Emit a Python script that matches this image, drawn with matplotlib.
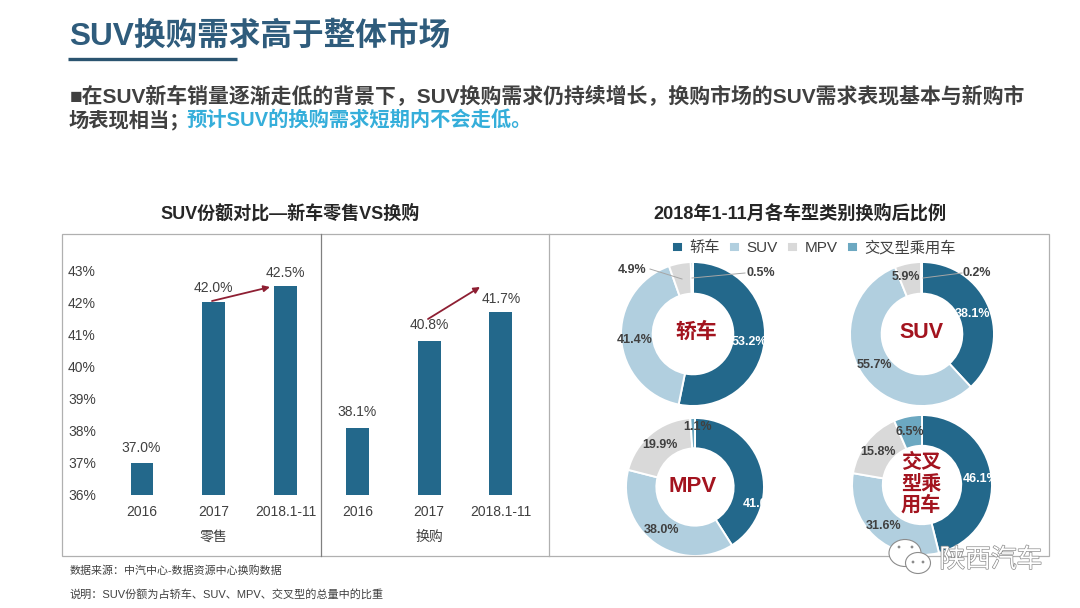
import matplotlib
matplotlib.use("Agg")
import matplotlib.pyplot as plt
from matplotlib.patches import Rectangle, Ellipse
import matplotlib.patheffects as pe

LATIN = ['Liberation Sans', 'Noto Sans CJK SC', 'DejaVu Sans']
plt.rcParams['font.family'] = LATIN

# ---------- data ----------
bar_categories = ['2016', '2017', '2018.1-11', '2016', '2017', '2018.1-11']
bar_values = [37.0, 42.0, 42.5, 38.1, 40.8, 41.7]
y_ticks = [36, 37, 38, 39, 40, 41, 42, 43]
y_tick_labels = ['36%', '37%', '38%', '39%', '40%', '41%', '42%', '43%']
group_names = ['零售', '换购']
donut_labels = ['轿车', 'SUV', 'MPV', '交叉型乘用车']
sedan_values = [53.2, 41.4, 4.9, 0.5]
suv_values = [38.1, 55.7, 5.9, 0.2]
mpv_values = [41.0, 38.0, 19.9, 1.1]
cross_values = [46.1, 31.6, 15.8, 6.5]

DARK = '#23688B'
LIGHT = '#B1CFDF'
GREY = '#D9D9D9'
TEAL = '#6CA8C1'
colors = [DARK, LIGHT, GREY, TEAL]
TXT = '#404040'
RED = '#A3141F'
W, H = 1080, 608

fig = plt.figure(figsize=(W / 100, H / 100), dpi=100, facecolor='white')


def px_axes(x0, y0, x1, y1, **kw):
    return fig.add_axes([x0 / W, 1 - y1 / H, (x1 - x0) / W, (y1 - y0) / H], **kw)


# ---------- bar chart ----------
ax = px_axes(100, 234, 548, 495, facecolor='none')
ax.bar(range(6), bar_values, width=0.32, color=DARK, bottom=0)
ax.set_xlim(-0.585, 5.655)
ax.set_ylim(36, 44.12)
ax.set_yticks(y_ticks, y_tick_labels, fontsize=10, color=TXT)
ax.set_xticks(range(6), bar_categories, fontsize=10, color=TXT)
ax.tick_params(length=0)
ax.tick_params(axis='y', pad=3)
ax.tick_params(axis='x', pad=7.5)
for s in ax.spines.values():
    s.set_visible(False)
bar_label_pos = [(141, 448), (213, 288), (285, 273), (357, 412), (429, 325), (501, 299)]

# ---------- donuts ----------
donuts = [
    (sedan_values, 693, 334, 72),
    (suv_values, 922, 334, 72),
    (mpv_values, 695, 487, 69),
    (cross_values, 922, 485, 70),
]
legend_wedges = None
for vals, cx, cy, r in donuts:
    a = px_axes(cx - r, cy - r, cx + r, cy + r)
    w, _ = a.pie(vals, colors=colors, startangle=90, counterclock=False, radius=1,
                 wedgeprops=dict(width=0.44, edgecolor='white', linewidth=1.4))
    a.set_xlim(-1, 1)
    a.set_ylim(-1, 1)
    if legend_wedges is None:
        legend_wedges = w

# ---------- overlay in pixel coordinates ----------
ov = px_axes(0, 0, W, H, facecolor='none', zorder=5)
ov.set_xlim(0, W)
ov.set_ylim(H, 0)
ov.axis('off')


def T(x, y, s, size, color=TXT, weight='normal', ha='center', va='center', **kw):
    return ov.text(x, y, s, fontsize=size, color=color, fontweight=weight, ha=ha, va=va,
                   family=LATIN, **kw)


# header
T(69, 36, 'SUV换购需求高于整体市场', 22.8, '#2F5C7C', 'bold', ha='left')
ov.plot([68, 237], [59, 59], color='#2B5470', lw=2.4, solid_capstyle='butt')
T(70, 97, '■在SUV新车销量逐渐走低的背景下\uff0cSUV换购需求仍持续增长\uff0c换购市场的SUV需求表现基本与新购市', 15,
  '#404040', 'bold', ha='left')
T(69, 120, '场表现相当\uff1b', 14.6, '#404040', 'bold', ha='left')
T(186, 120, '预计SUV的换购需求短期内不会走低\u3002', 14.6, '#35AEDA', 'bold', ha='left')

# sub-titles
T(290, 213, 'SUV份额对比\u2014新车零售VS换购', 13, '#262626', 'bold')
T(800, 213, '2018年1-11月各车型类别换购后比例', 13.1, '#262626', 'bold')

# frames
ov.add_patch(Rectangle((62, 234), 987, 322, fill=False, ec='#B0B0B0', lw=0.9))
ov.plot([321, 321], [234, 556], color='#808080', lw=0.9)
ov.plot([549, 549], [234, 556], color='#B0B0B0', lw=0.9)

# bar value labels
for (x, y), v in zip(bar_label_pos, bar_values):
    T(x, y, f'{v:.1f}%', 10)
for x, name in zip([213, 429], group_names):
    T(x, 537, name, 10)

# arrows
for (x0, y0), (x1, y1) in [((212, 301), (270, 287)), ((428, 319), (480, 287))]:
    ov.annotate('', xy=(x1, y1), xytext=(x0, y0),
                arrowprops=dict(arrowstyle='-|>', color='#8E1F33', lw=1.3, mutation_scale=9,
                                shrinkA=0, shrinkB=0))

# donut value labels
label_pos = [
    [(749, 342), (635, 340), (632, 270), (761, 273)],
    [(973, 314), (874, 365), (906, 277), (977, 273)],
    [(761, 504), (662, 530), (660, 445), (698, 427)],
    [(981, 479), (884, 526), (878, 452), (910, 432)],
]
for (vals, *_), poss in zip(donuts, label_pos):
    for i, (v, (x, y)) in enumerate(zip(vals, poss)):
        T(x, y, f'{v:.1f}%', 9, 'white' if i == 0 else TXT, 'bold')
for (x0, y0), (x1, y1) in [((650, 269), (682, 279)), ((745, 273), (692, 278)), ((962, 273), (923, 278))]:
    ov.plot([x0, x1], [y0, y1], color='#A6A6A6', lw=0.7)

# donut centre labels
T(696, 332, '轿车', 15, RED, 'bold')
T(921, 333, 'SUV', 15.5, RED, 'bold')
T(693, 486, 'MPV', 16, RED, 'bold')
for y, s in zip([462, 484, 505], ['交叉', '型乘', '用车']):
    T(921, y, s, 14.5, RED, 'bold')

# footer
T(70, 571, '数据来源\uff1a中汽中心-数据资源中心换购数据', 7.9, '#404040', ha='left')
T(70, 594, '说明\uff1aSUV份额为占轿车、SUV、MPV、交叉型的总量中的比重', 8, '#404040', ha='left')

# legend
leg = ov.legend(legend_wedges, donut_labels, ncol=4, loc='center', bbox_to_anchor=(814, 248),
                bbox_transform=ov.transData, frameon=False, fontsize=11, handlelength=0.72,
                handleheight=0.72, handletextpad=0.42, columnspacing=0.62, labelcolor='#404040',
                borderpad=0, borderaxespad=0)

# watermark
ov.add_patch(Ellipse((905, 553), 32, 27, fc='white', ec='#8C8C8C', lw=0.8, zorder=6))
ov.add_patch(Ellipse((918, 563), 25, 21, fc='white', ec='#8C8C8C', lw=0.8, zorder=7))
for x, y in [(899, 547), (912, 547), (913, 562), (923, 562)]:
    ov.add_patch(Ellipse((x, y), 2.8, 2.8, fc='#8C8C8C', ec='none', zorder=8))
outline = [pe.withStroke(linewidth=1.0, foreground='#8C8C8C')]
T(991, 560, '陕西汽车', 18.5, 'white', path_effects=outline, zorder=9)

fig.savefig('out.png', dpi=100, facecolor='white')
